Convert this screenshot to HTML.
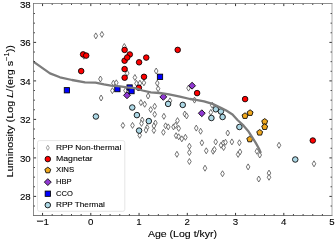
<!DOCTYPE html><html><head><meta charset="utf-8"><style>html,body{margin:0;padding:0;background:#fff;width:335px;height:240px;overflow:hidden}svg{display:block;will-change:transform}</style></head><body><svg width="335" height="240" viewBox="0 0 335 240"><rect width="335" height="240" fill="#fff"/><defs><clipPath id="c"><rect x="33.5" y="3.5" width="298.5" height="212.0"/></clipPath></defs><g clip-path="url(#c)"><path d="M95.80 32.90L97.60 35.90L95.80 38.90L94.00 35.90Z" fill="#fff" stroke="#505050" stroke-width="0.8"/><path d="M101.90 31.40L103.70 34.40L101.90 37.40L100.10 34.40Z" fill="#fff" stroke="#505050" stroke-width="0.8"/><path d="M124.30 43.50L126.10 46.50L124.30 49.50L122.50 46.50Z" fill="#fff" stroke="#505050" stroke-width="0.8"/><path d="M83.90 53.20L85.70 56.20L83.90 59.20L82.10 56.20Z" fill="#fff" stroke="#505050" stroke-width="0.8"/><path d="M127.20 70.20L129.00 73.20L127.20 76.20L125.40 73.20Z" fill="#fff" stroke="#505050" stroke-width="0.8"/><path d="M134.90 74.50L136.70 77.50L134.90 80.50L133.10 77.50Z" fill="#fff" stroke="#505050" stroke-width="0.8"/><path d="M100.40 76.00L102.20 79.00L100.40 82.00L98.60 79.00Z" fill="#fff" stroke="#505050" stroke-width="0.8"/><path d="M101.10 95.00L102.90 98.00L101.10 101.00L99.30 98.00Z" fill="#fff" stroke="#505050" stroke-width="0.8"/><path d="M113.40 80.20L115.20 83.20L113.40 86.20L111.60 83.20Z" fill="#fff" stroke="#505050" stroke-width="0.8"/><path d="M116.30 79.80L118.10 82.80L116.30 85.80L114.50 82.80Z" fill="#fff" stroke="#505050" stroke-width="0.8"/><path d="M112.40 87.70L114.20 90.70L112.40 93.70L110.60 90.70Z" fill="#fff" stroke="#505050" stroke-width="0.8"/><path d="M136.50 80.40L138.30 83.40L136.50 86.40L134.70 83.40Z" fill="#fff" stroke="#505050" stroke-width="0.8"/><path d="M139.90 80.20L141.70 83.20L139.90 86.20L138.10 83.20Z" fill="#fff" stroke="#505050" stroke-width="0.8"/><path d="M143.90 79.80L145.70 82.80L143.90 85.80L142.10 82.80Z" fill="#fff" stroke="#505050" stroke-width="0.8"/><path d="M125.50 87.50L127.30 90.50L125.50 93.50L123.70 90.50Z" fill="#fff" stroke="#505050" stroke-width="0.8"/><path d="M156.20 68.00L158.00 71.00L156.20 74.00L154.40 71.00Z" fill="#fff" stroke="#505050" stroke-width="0.8"/><path d="M157.25 80.10L159.05 83.10L157.25 86.10L155.45 83.10Z" fill="#fff" stroke="#505050" stroke-width="0.8"/><path d="M158.10 85.75L159.90 88.75L158.10 91.75L156.30 88.75Z" fill="#fff" stroke="#505050" stroke-width="0.8"/><path d="M148.10 93.00L149.90 96.00L148.10 99.00L146.30 96.00Z" fill="#fff" stroke="#505050" stroke-width="0.8"/><path d="M188.50 85.10L190.30 88.10L188.50 91.10L186.70 88.10Z" fill="#fff" stroke="#505050" stroke-width="0.8"/><path d="M194.50 97.10L196.30 100.10L194.50 103.10L192.70 100.10Z" fill="#fff" stroke="#505050" stroke-width="0.8"/><path d="M212.20 102.20L214.00 105.20L212.20 108.20L210.40 105.20Z" fill="#fff" stroke="#505050" stroke-width="0.8"/><path d="M210.80 109.40L212.60 112.40L210.80 115.40L209.00 112.40Z" fill="#fff" stroke="#505050" stroke-width="0.8"/><path d="M279.00 142.25L280.80 145.25L279.00 148.25L277.20 145.25Z" fill="#fff" stroke="#505050" stroke-width="0.8"/><path d="M256.90 148.25L258.70 151.25L256.90 154.25L255.10 151.25Z" fill="#fff" stroke="#505050" stroke-width="0.8"/><path d="M259.75 152.00L261.55 155.00L259.75 158.00L257.95 155.00Z" fill="#fff" stroke="#505050" stroke-width="0.8"/><path d="M248.10 163.90L249.90 166.90L248.10 169.90L246.30 166.90Z" fill="#fff" stroke="#505050" stroke-width="0.8"/><path d="M140.90 99.60L142.70 102.60L140.90 105.60L139.10 102.60Z" fill="#fff" stroke="#505050" stroke-width="0.8"/><path d="M144.70 101.25L146.50 104.25L144.70 107.25L142.90 104.25Z" fill="#fff" stroke="#505050" stroke-width="0.8"/><path d="M150.70 106.60L152.50 109.60L150.70 112.60L148.90 109.60Z" fill="#fff" stroke="#505050" stroke-width="0.8"/><path d="M154.70 103.30L156.50 106.30L154.70 109.30L152.90 106.30Z" fill="#fff" stroke="#505050" stroke-width="0.8"/><path d="M154.70 111.30L156.50 114.30L154.70 117.30L152.90 114.30Z" fill="#fff" stroke="#505050" stroke-width="0.8"/><path d="M163.90 113.30L165.70 116.30L163.90 119.30L162.10 116.30Z" fill="#fff" stroke="#505050" stroke-width="0.8"/><path d="M142.20 117.00L144.00 120.00L142.20 123.00L140.40 120.00Z" fill="#fff" stroke="#505050" stroke-width="0.8"/><path d="M141.50 120.40L143.30 123.40L141.50 126.40L139.70 123.40Z" fill="#fff" stroke="#505050" stroke-width="0.8"/><path d="M155.40 120.00L157.20 123.00L155.40 126.00L153.60 123.00Z" fill="#fff" stroke="#505050" stroke-width="0.8"/><path d="M153.90 123.00L155.70 126.00L153.90 129.00L152.10 126.00Z" fill="#fff" stroke="#505050" stroke-width="0.8"/><path d="M153.90 127.50L155.70 130.50L153.90 133.50L152.10 130.50Z" fill="#fff" stroke="#505050" stroke-width="0.8"/><path d="M147.10 124.50L148.90 127.50L147.10 130.50L145.30 127.50Z" fill="#fff" stroke="#505050" stroke-width="0.8"/><path d="M146.00 127.10L147.80 130.10L146.00 133.10L144.20 130.10Z" fill="#fff" stroke="#505050" stroke-width="0.8"/><path d="M139.70 132.30L141.50 135.30L139.70 138.30L137.90 135.30Z" fill="#fff" stroke="#505050" stroke-width="0.8"/><path d="M177.50 117.60L179.30 120.60L177.50 123.60L175.70 120.60Z" fill="#fff" stroke="#505050" stroke-width="0.8"/><path d="M122.90 122.40L124.70 125.40L122.90 128.40L121.10 125.40Z" fill="#fff" stroke="#505050" stroke-width="0.8"/><path d="M132.50 122.40L134.30 125.40L132.50 128.40L130.70 125.40Z" fill="#fff" stroke="#505050" stroke-width="0.8"/><path d="M170.00 97.80L171.80 100.80L170.00 103.80L168.20 100.80Z" fill="#fff" stroke="#505050" stroke-width="0.8"/><path d="M184.80 111.00L186.60 114.00L184.80 117.00L183.00 114.00Z" fill="#fff" stroke="#505050" stroke-width="0.8"/><path d="M186.60 112.90L188.40 115.90L186.60 118.90L184.80 115.90Z" fill="#fff" stroke="#505050" stroke-width="0.8"/><path d="M165.60 122.80L167.40 125.80L165.60 128.80L163.80 125.80Z" fill="#fff" stroke="#505050" stroke-width="0.8"/><path d="M168.25 123.90L170.05 126.90L168.25 129.90L166.45 126.90Z" fill="#fff" stroke="#505050" stroke-width="0.8"/><path d="M173.50 123.90L175.30 126.90L173.50 129.90L171.70 126.90Z" fill="#fff" stroke="#505050" stroke-width="0.8"/><path d="M175.50 122.30L177.30 125.30L175.50 128.30L173.70 125.30Z" fill="#fff" stroke="#505050" stroke-width="0.8"/><path d="M178.70 125.40L180.50 128.40L178.70 131.40L176.90 128.40Z" fill="#fff" stroke="#505050" stroke-width="0.8"/><path d="M163.40 129.30L165.20 132.30L163.40 135.30L161.60 132.30Z" fill="#fff" stroke="#505050" stroke-width="0.8"/><path d="M176.10 132.70L177.90 135.70L176.10 138.70L174.30 135.70Z" fill="#fff" stroke="#505050" stroke-width="0.8"/><path d="M178.70 133.75L180.50 136.75L178.70 139.75L176.90 136.75Z" fill="#fff" stroke="#505050" stroke-width="0.8"/><path d="M181.80 135.80L183.60 138.80L181.80 141.80L180.00 138.80Z" fill="#fff" stroke="#505050" stroke-width="0.8"/><path d="M185.40 134.30L187.20 137.30L185.40 140.30L183.60 137.30Z" fill="#fff" stroke="#505050" stroke-width="0.8"/><path d="M196.25 125.10L198.05 128.10L196.25 131.10L194.45 128.10Z" fill="#fff" stroke="#505050" stroke-width="0.8"/><path d="M200.60 128.25L202.40 131.25L200.60 134.25L198.80 131.25Z" fill="#fff" stroke="#505050" stroke-width="0.8"/><path d="M201.90 139.80L203.70 142.80L201.90 145.80L200.10 142.80Z" fill="#fff" stroke="#505050" stroke-width="0.8"/><path d="M215.70 138.90L217.50 141.90L215.70 144.90L213.90 141.90Z" fill="#fff" stroke="#505050" stroke-width="0.8"/><path d="M231.90 138.90L233.70 141.90L231.90 144.90L230.10 141.90Z" fill="#fff" stroke="#505050" stroke-width="0.8"/><path d="M221.00 142.25L222.80 145.25L221.00 148.25L219.20 145.25Z" fill="#fff" stroke="#505050" stroke-width="0.8"/><path d="M223.25 140.00L225.05 143.00L223.25 146.00L221.45 143.00Z" fill="#fff" stroke="#505050" stroke-width="0.8"/><path d="M225.50 139.25L227.30 142.25L225.50 145.25L223.70 142.25Z" fill="#fff" stroke="#505050" stroke-width="0.8"/><path d="M223.60 144.50L225.40 147.50L223.60 150.50L221.80 147.50Z" fill="#fff" stroke="#505050" stroke-width="0.8"/><path d="M227.75 130.00L229.55 133.00L227.75 136.00L225.95 133.00Z" fill="#fff" stroke="#505050" stroke-width="0.8"/><path d="M239.40 139.75L241.20 142.75L239.40 145.75L237.60 142.75Z" fill="#fff" stroke="#505050" stroke-width="0.8"/><path d="M189.40 143.25L191.20 146.25L189.40 149.25L187.60 146.25Z" fill="#fff" stroke="#505050" stroke-width="0.8"/><path d="M189.40 149.50L191.20 152.50L189.40 155.50L187.60 152.50Z" fill="#fff" stroke="#505050" stroke-width="0.8"/><path d="M189.40 158.50L191.20 161.50L189.40 164.50L187.60 161.50Z" fill="#fff" stroke="#505050" stroke-width="0.8"/><path d="M206.25 147.80L208.05 150.80L206.25 153.80L204.45 150.80Z" fill="#fff" stroke="#505050" stroke-width="0.8"/><path d="M213.10 148.25L214.90 151.25L213.10 154.25L211.30 151.25Z" fill="#fff" stroke="#505050" stroke-width="0.8"/><path d="M214.40 146.40L216.20 149.40L214.40 152.40L212.60 149.40Z" fill="#fff" stroke="#505050" stroke-width="0.8"/><path d="M205.00 165.20L206.80 168.20L205.00 171.20L203.20 168.20Z" fill="#fff" stroke="#505050" stroke-width="0.8"/><path d="M222.50 170.75L224.30 173.75L222.50 176.75L220.70 173.75Z" fill="#fff" stroke="#505050" stroke-width="0.8"/><path d="M238.10 151.40L239.90 154.40L238.10 157.40L236.30 154.40Z" fill="#fff" stroke="#505050" stroke-width="0.8"/><path d="M240.00 148.90L241.80 151.90L240.00 154.90L238.20 151.90Z" fill="#fff" stroke="#505050" stroke-width="0.8"/><path d="M258.75 176.00L260.55 179.00L258.75 182.00L256.95 179.00Z" fill="#fff" stroke="#505050" stroke-width="0.8"/><path d="M269.00 170.10L270.80 173.10L269.00 176.10L267.20 173.10Z" fill="#fff" stroke="#505050" stroke-width="0.8"/><path d="M269.00 174.25L270.80 177.25L269.00 180.25L267.20 177.25Z" fill="#fff" stroke="#505050" stroke-width="0.8"/><path d="M314.00 160.80L315.80 163.80L314.00 166.80L312.20 163.80Z" fill="#fff" stroke="#505050" stroke-width="0.8"/><path d="M176.90 151.30L178.70 154.30L176.90 157.30L175.10 154.30Z" fill="#fff" stroke="#505050" stroke-width="0.8"/><circle cx="83.10" cy="54.40" r="2.78" fill="#ff0000" stroke="#000" stroke-width="0.85"/><circle cx="86.20" cy="55.60" r="2.78" fill="#ff0000" stroke="#000" stroke-width="0.85"/><circle cx="81.20" cy="71.10" r="2.78" fill="#ff0000" stroke="#000" stroke-width="0.85"/><circle cx="124.60" cy="49.90" r="2.78" fill="#ff0000" stroke="#000" stroke-width="0.85"/><circle cx="129.80" cy="54.45" r="2.78" fill="#ff0000" stroke="#000" stroke-width="0.85"/><circle cx="124.60" cy="60.70" r="2.78" fill="#ff0000" stroke="#000" stroke-width="0.85"/><circle cx="127.20" cy="57.50" r="2.78" fill="#ff0000" stroke="#000" stroke-width="0.85"/><circle cx="139.10" cy="62.30" r="2.78" fill="#ff0000" stroke="#000" stroke-width="0.85"/><circle cx="146.25" cy="57.60" r="2.78" fill="#ff0000" stroke="#000" stroke-width="0.85"/><circle cx="124.60" cy="69.10" r="2.78" fill="#ff0000" stroke="#000" stroke-width="0.85"/><circle cx="124.65" cy="77.70" r="2.78" fill="#ff0000" stroke="#000" stroke-width="0.85"/><circle cx="144.00" cy="76.80" r="2.78" fill="#ff0000" stroke="#000" stroke-width="0.85"/><circle cx="177.70" cy="49.90" r="2.78" fill="#ff0000" stroke="#000" stroke-width="0.85"/><circle cx="138.90" cy="87.80" r="2.78" fill="#ff0000" stroke="#000" stroke-width="0.85"/><circle cx="197.10" cy="93.10" r="2.78" fill="#ff0000" stroke="#000" stroke-width="0.85"/><circle cx="245.10" cy="99.10" r="2.78" fill="#ff0000" stroke="#000" stroke-width="0.85"/><circle cx="312.80" cy="140.50" r="2.78" fill="#ff0000" stroke="#000" stroke-width="0.85"/><polygon points="245.00,112.80 247.95,114.94 246.82,118.41 243.18,118.41 242.05,114.94" fill="#f0a81e" stroke="#000" stroke-width="0.85"/><polygon points="250.10,109.80 253.05,111.94 251.92,115.41 248.28,115.41 247.15,111.94" fill="#f0a81e" stroke="#000" stroke-width="0.85"/><polygon points="264.70,118.60 267.65,120.74 266.52,124.21 262.88,124.21 261.75,120.74" fill="#f0a81e" stroke="#000" stroke-width="0.85"/><polygon points="264.70,123.85 267.65,125.99 266.52,129.46 262.88,129.46 261.75,125.99" fill="#f0a81e" stroke="#000" stroke-width="0.85"/><polygon points="259.70,129.50 262.65,131.64 261.52,135.11 257.88,135.11 256.75,131.64" fill="#f0a81e" stroke="#000" stroke-width="0.85"/><polygon points="249.75,136.20 252.70,138.34 251.57,141.81 247.93,141.81 246.80,138.34" fill="#f0a81e" stroke="#000" stroke-width="0.85"/><path d="M127.00 91.85L130.45 95.30L127.00 98.75L123.55 95.30Z" fill="#9038d2" stroke="#000" stroke-width="0.85"/><path d="M163.30 93.45L166.75 96.90L163.30 100.35L159.85 96.90Z" fill="#9038d2" stroke="#000" stroke-width="0.85"/><path d="M192.10 82.25L195.55 85.70L192.10 89.15L188.65 85.70Z" fill="#9038d2" stroke="#000" stroke-width="0.85"/><path d="M201.80 109.80L205.25 113.25L201.80 116.70L198.35 113.25Z" fill="#9038d2" stroke="#000" stroke-width="0.85"/><rect x="64.25" y="87.60" width="5.30" height="5.30" fill="#0000ff" stroke="#000" stroke-width="0.85"/><rect x="114.75" y="86.45" width="5.30" height="5.30" fill="#0000ff" stroke="#000" stroke-width="0.85"/><rect x="126.95" y="84.85" width="5.30" height="5.30" fill="#0000ff" stroke="#000" stroke-width="0.85"/><rect x="128.85" y="88.45" width="5.30" height="5.30" fill="#0000ff" stroke="#000" stroke-width="0.85"/><rect x="157.35" y="74.15" width="5.30" height="5.30" fill="#0000ff" stroke="#000" stroke-width="0.85"/><circle cx="95.90" cy="116.50" r="2.78" fill="#add8e6" stroke="#000" stroke-width="0.85"/><circle cx="132.25" cy="107.50" r="2.78" fill="#add8e6" stroke="#000" stroke-width="0.85"/><circle cx="136.90" cy="115.10" r="2.78" fill="#add8e6" stroke="#000" stroke-width="0.85"/><circle cx="139.10" cy="130.60" r="2.78" fill="#add8e6" stroke="#000" stroke-width="0.85"/><circle cx="148.80" cy="121.10" r="2.78" fill="#add8e6" stroke="#000" stroke-width="0.85"/><circle cx="168.10" cy="103.90" r="2.78" fill="#add8e6" stroke="#000" stroke-width="0.85"/><circle cx="182.75" cy="104.90" r="2.78" fill="#add8e6" stroke="#000" stroke-width="0.85"/><circle cx="215.80" cy="109.30" r="2.78" fill="#add8e6" stroke="#000" stroke-width="0.85"/><circle cx="220.90" cy="111.50" r="2.78" fill="#add8e6" stroke="#000" stroke-width="0.85"/><circle cx="211.40" cy="118.00" r="2.78" fill="#add8e6" stroke="#000" stroke-width="0.85"/><circle cx="222.60" cy="117.00" r="2.78" fill="#add8e6" stroke="#000" stroke-width="0.85"/><circle cx="239.40" cy="127.00" r="2.78" fill="#add8e6" stroke="#000" stroke-width="0.85"/><circle cx="295.25" cy="159.50" r="2.78" fill="#add8e6" stroke="#000" stroke-width="0.85"/><polyline points="30.00,59.30 33.00,61.40 50.00,73.40 60.00,77.30 72.00,80.00 85.00,82.40 95.50,82.60 104.00,84.40 111.00,85.60 120.00,86.40 127.00,87.40 135.30,88.10 142.50,90.50 150.80,92.30 159.60,93.00 169.10,94.40 179.90,96.70 190.00,99.00 194.60,99.60 204.10,101.30 212.50,103.90 220.80,107.80 226.25,110.60 232.50,114.40 237.50,120.00 243.60,125.70 248.10,130.90 251.30,135.90 255.60,142.60 258.75,148.20 260.40,151.90" fill="none" stroke="#7c7c7c" stroke-width="2.3" stroke-linejoin="round" stroke-linecap="square"/></g><path d="M42.55 215.50v-2.6M42.55 3.50v2.6M52.20 215.50v-1.4M52.20 3.50v1.4M61.85 215.50v-1.4M61.85 3.50v1.4M71.50 215.50v-1.4M71.50 3.50v1.4M81.15 215.50v-1.4M81.15 3.50v1.4M90.80 215.50v-2.6M90.80 3.50v2.6M100.45 215.50v-1.4M100.45 3.50v1.4M110.10 215.50v-1.4M110.10 3.50v1.4M119.75 215.50v-1.4M119.75 3.50v1.4M129.40 215.50v-1.4M129.40 3.50v1.4M139.05 215.50v-2.6M139.05 3.50v2.6M148.70 215.50v-1.4M148.70 3.50v1.4M158.35 215.50v-1.4M158.35 3.50v1.4M168.00 215.50v-1.4M168.00 3.50v1.4M177.65 215.50v-1.4M177.65 3.50v1.4M187.30 215.50v-2.6M187.30 3.50v2.6M196.95 215.50v-1.4M196.95 3.50v1.4M206.60 215.50v-1.4M206.60 3.50v1.4M216.25 215.50v-1.4M216.25 3.50v1.4M225.90 215.50v-1.4M225.90 3.50v1.4M235.55 215.50v-2.6M235.55 3.50v2.6M245.20 215.50v-1.4M245.20 3.50v1.4M254.85 215.50v-1.4M254.85 3.50v1.4M264.50 215.50v-1.4M264.50 3.50v1.4M274.15 215.50v-1.4M274.15 3.50v1.4M283.80 215.50v-2.6M283.80 3.50v2.6M293.45 215.50v-1.4M293.45 3.50v1.4M303.10 215.50v-1.4M303.10 3.50v1.4M312.75 215.50v-1.4M312.75 3.50v1.4M322.40 215.50v-1.4M322.40 3.50v1.4M33.50 206.03h1.4M332.00 206.03h-1.4M33.50 196.40h2.6M332.00 196.40h-2.6M33.50 186.78h1.4M332.00 186.78h-1.4M33.50 177.15h1.4M332.00 177.15h-1.4M33.50 167.53h1.4M332.00 167.53h-1.4M33.50 157.90h2.6M332.00 157.90h-2.6M33.50 148.28h1.4M332.00 148.28h-1.4M33.50 138.65h1.4M332.00 138.65h-1.4M33.50 129.03h1.4M332.00 129.03h-1.4M33.50 119.40h2.6M332.00 119.40h-2.6M33.50 109.78h1.4M332.00 109.78h-1.4M33.50 100.15h1.4M332.00 100.15h-1.4M33.50 90.53h1.4M332.00 90.53h-1.4M33.50 80.90h2.6M332.00 80.90h-2.6M33.50 71.28h1.4M332.00 71.28h-1.4M33.50 61.65h1.4M332.00 61.65h-1.4M33.50 52.02h1.4M332.00 52.02h-1.4M33.50 42.40h2.6M332.00 42.40h-2.6M33.50 32.77h1.4M332.00 32.77h-1.4M33.50 23.15h1.4M332.00 23.15h-1.4M33.50 13.53h1.4M332.00 13.53h-1.4" stroke="#000" stroke-width="0.8" fill="none"/><path d="M33.15 3.5H332.35" stroke="#606060" stroke-width="0.7"/><path d="M33.15 215.5H332.35" stroke="#404040" stroke-width="0.7"/><path d="M33.5 3.15V215.85" stroke="#5a5a5a" stroke-width="0.7"/><path d="M332 3.15V215.85" stroke="#888" stroke-width="0.7"/><g font-family="Liberation Sans" font-size="9.7" fill="#000" stroke="#000" stroke-width="0.1"><text x="46.3" y="225.1" text-anchor="middle">1</text><rect x="37.0" y="220.75" width="6.1" height="0.85" fill="#000"/><text x="90.80" y="225.1" text-anchor="middle">0</text><text x="139.05" y="225.1" text-anchor="middle">1</text><text x="187.30" y="225.1" text-anchor="middle">2</text><text x="235.55" y="225.1" text-anchor="middle">3</text><text x="283.80" y="225.1" text-anchor="middle">4</text><text x="332.05" y="225.1" text-anchor="middle">5</text><text x="30.7" y="200.00" text-anchor="end">28</text><text x="30.7" y="161.50" text-anchor="end">30</text><text x="30.7" y="123.00" text-anchor="end">32</text><text x="30.7" y="84.50" text-anchor="end">34</text><text x="30.7" y="46.00" text-anchor="end">36</text><text x="30.7" y="7.50" text-anchor="end">38</text></g><text x="147.9" y="237.1" textLength="69.2" lengthAdjust="spacingAndGlyphs" font-family="Liberation Sans" font-size="9.8" stroke="#000" stroke-width="0.1">Age (Log t/kyr)</text><text transform="translate(13.0,177.5) rotate(-90)" textLength="132.5" lengthAdjust="spacingAndGlyphs" font-family="Liberation Sans" font-size="9.9" stroke="#000" stroke-width="0.1">Luminosity (Log <tspan font-style="italic">L</tspan>/(erg s<tspan dy="-3.6" font-size="6.8">−1</tspan><tspan dy="3.6">))</tspan></text><rect x="37.5" y="140.6" width="87.3" height="70.7" rx="2" ry="2" fill="#fff" fill-opacity="0.8" stroke="#dedede" stroke-width="0.8"/><path d="M47.80 145.20L49.30 147.80L47.80 150.40L46.30 147.80Z" fill="#fff" stroke="#8a8a8a" stroke-width="0.8"/><circle cx="47.80" cy="159.10" r="2.78" fill="#ff0000" stroke="#000" stroke-width="0.85"/><polygon points="47.80,167.20 50.75,169.34 49.62,172.81 45.98,172.81 44.85,169.34" fill="#f0a81e" stroke="#000" stroke-width="0.85"/><path d="M47.80 178.65L51.25 182.10L47.80 185.55L44.35 182.10Z" fill="#9038d2" stroke="#000" stroke-width="0.85"/><rect x="45.15" y="191.05" width="5.30" height="5.30" fill="#0000ff" stroke="#000" stroke-width="0.85"/><circle cx="47.80" cy="205.10" r="2.78" fill="#add8e6" stroke="#000" stroke-width="0.85"/><g font-family="Liberation Sans" font-size="8.0" fill="#000" stroke="#000" stroke-width="0.1"><text x="56.0" y="149.90" textLength="65.24" lengthAdjust="spacingAndGlyphs">RPP Non-thermal</text><text x="56.0" y="161.20" textLength="36.77" lengthAdjust="spacingAndGlyphs">Magnetar</text><text x="56.0" y="172.40" textLength="18.19" lengthAdjust="spacingAndGlyphs">XINS</text><text x="56.0" y="184.20" textLength="15.72" lengthAdjust="spacingAndGlyphs">HBP</text><text x="56.0" y="195.80" textLength="16.81" lengthAdjust="spacingAndGlyphs">CCO</text><text x="56.0" y="207.20" textLength="48.79" lengthAdjust="spacingAndGlyphs">RPP Thermal</text></g></svg></body></html>
